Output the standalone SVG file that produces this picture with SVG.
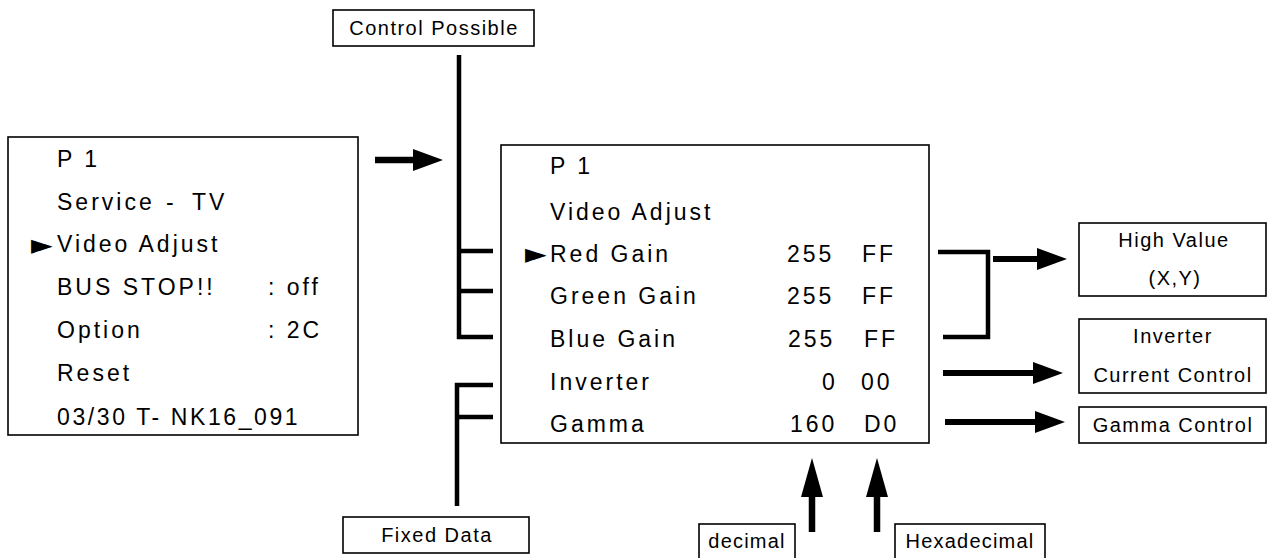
<svg xmlns="http://www.w3.org/2000/svg" width="1270" height="558" viewBox="0 0 1270 558">
<style>
.box{fill:#fff;stroke:#000;stroke-width:1.6}
.menu{font-family:"Liberation Sans",Arial,sans-serif;font-size:23px;letter-spacing:3px;fill:#000}
.lbl{font-family:"Liberation Sans",Arial,sans-serif;font-size:20px;letter-spacing:1.5px;fill:#000;text-anchor:middle}
.ptr{font-family:"DejaVu Sans",sans-serif;font-size:28px;fill:#000}
.br{fill:none;stroke:#000;stroke-width:4.5;stroke-linecap:butt;stroke-linejoin:miter}
.sh{fill:none;stroke:#000;stroke-width:6.5}
.hd{fill:#000;stroke:none}
</style>
<g id="service-menu">
<rect class="box" x="8" y="137" width="350" height="298"/>
<text class="menu" x="57" y="167">P 1</text>
<text class="menu" x="57" y="210">Service</text>
<text class="menu" x="166" y="210">-</text>
<text class="menu" x="192" y="210">TV</text>
<text class="ptr" x="31" y="254">►</text>
<text class="menu" x="57" y="252">Video Adjust</text>
<text class="menu" x="57" y="295">BUS STOP!!</text>
<text class="menu" x="268" y="295">: off</text>
<text class="menu" x="57" y="338">Option</text>
<text class="menu" x="268" y="338">: 2C</text>
<text class="menu" x="57" y="381">Reset</text>
<text class="menu" x="57" y="425" style="letter-spacing:2.6px">03/30 T- NK16_091</text>
</g>
<g id="video-adjust-menu">
<rect class="box" x="501" y="145" width="428" height="298"/>
<text class="menu" x="550" y="174">P 1</text>
<text class="menu" x="550" y="220">Video Adjust</text>
<text class="ptr" x="525" y="263">►</text>
<text class="menu" x="550" y="262">Red Gain</text>
<text class="menu" x="787" y="262">255</text>
<text class="menu" x="862" y="262">FF</text>
<text class="menu" x="550" y="304">Green Gain</text>
<text class="menu" x="787" y="304">255</text>
<text class="menu" x="862" y="304">FF</text>
<text class="menu" x="550" y="347">Blue Gain</text>
<text class="menu" x="788" y="347">255</text>
<text class="menu" x="864" y="347">FF</text>
<text class="menu" x="550" y="390">Inverter</text>
<text class="menu" x="822" y="390">0</text>
<text class="menu" x="861" y="390">00</text>
<text class="menu" x="550" y="432">Gamma</text>
<text class="menu" x="790" y="432">160</text>
<text class="menu" x="864" y="432">D0</text>
</g>
<g id="control-possible">
<rect class="box" x="333" y="10" width="201" height="36"/>
<text class="lbl" x="434" y="35">Control Possible</text>
</g>
<g id="fixed-data">
<rect class="box" x="343" y="517" width="186" height="36"/>
<text class="lbl" x="437" y="542">Fixed Data</text>
</g>
<g id="high-value">
<rect class="box" x="1079" y="223" width="187" height="73"/>
<text class="lbl" x="1174" y="247">High Value</text>
<text class="lbl" x="1175" y="285">(X,Y)</text>
</g>
<g id="inverter-current-control">
<rect class="box" x="1079" y="319" width="187" height="74"/>
<text class="lbl" x="1173" y="343">Inverter</text>
<text class="lbl" x="1173" y="382">Current Control</text>
</g>
<g id="gamma-control">
<rect class="box" x="1079" y="407" width="187" height="36"/>
<text class="lbl" x="1173" y="432">Gamma Control</text>
</g>
<g id="decimal">
<rect class="box" x="699" y="524" width="96" height="40"/>
<text class="lbl" x="747" y="548" style="letter-spacing:1.2px">decimal</text>
</g>
<g id="hexadecimal">
<rect class="box" x="895" y="524" width="150" height="40"/>
<text class="lbl" x="970" y="548" style="letter-spacing:1.2px">Hexadecimal</text>
</g>
<g id="connectors">
<line class="sh" x1="375" y1="160" x2="415" y2="160"/>
<polygon class="hd" points="413,149 443,160 413,171"/>
<polyline class="br" points="459,55 459,337 493,337"/>
<line class="br" x1="459" y1="251" x2="493" y2="251"/>
<line class="br" x1="459" y1="291" x2="493" y2="291"/>
<polyline class="br" points="493,385 457,385 457,506"/>
<line class="br" x1="457" y1="417" x2="493" y2="417"/>
<polyline class="br" points="938,252 988,252 988,337 943,337"/>
<line class="sh" x1="993" y1="259" x2="1040" y2="259" style="stroke-width:6"/>
<polygon class="hd" points="1037,248 1067,259 1037,270"/>
<line class="sh" x1="943" y1="373" x2="1036" y2="373" style="stroke-width:6"/>
<polygon class="hd" points="1033,362 1063,373 1033,384"/>
<line class="sh" x1="945" y1="422" x2="1038" y2="422" style="stroke-width:6"/>
<polygon class="hd" points="1035,411 1065,422 1035,433"/>
<line class="sh" x1="812" y1="532" x2="812" y2="494"/>
<polygon class="hd" points="801,497 812,458 823,497"/>
<line class="sh" x1="877" y1="532" x2="877" y2="494"/>
<polygon class="hd" points="866,497 877,458 888,497"/>
</g>
</svg>
